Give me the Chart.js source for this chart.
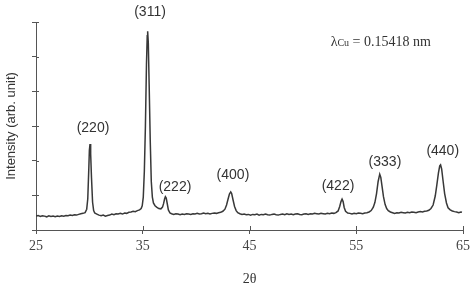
<!DOCTYPE html>
<html>
<head>
<meta charset="utf-8">
<script src="https://cdn.jsdelivr.net/npm/chart.js@4/dist/chart.umd.min.js"></script>
<style>
  html, body { margin: 0; padding: 0; background: #fff; }
  #wrap { width: 475px; height: 283px; }
</style>
</head>
<body>
<div id="wrap"><canvas id="xrdChart" width="475" height="283"></canvas></div>
<script>
// XRD pattern (2θ in degrees, intensity in tick units)
const twoTheta = [
  25.0, 25.2, 25.4, 25.6, 25.8, 26.0, 26.2, 26.4, 26.6, 26.8,
  27.0, 27.2, 27.4, 27.6, 27.8, 28.0, 28.2, 28.4, 28.6, 28.8,
  29.0, 29.2, 29.4, 29.6, 29.75, 29.85, 29.95, 30.0, 30.06, 30.12,
  30.2, 30.3, 30.4, 30.5, 30.7, 30.9, 31.1, 31.3, 31.5, 31.7,
  31.9, 32.1, 32.3, 32.5, 32.7, 32.9, 33.1, 33.3, 33.5, 33.7,
  33.9, 34.1, 34.3, 34.5, 34.7, 34.85, 34.95, 35.05, 35.15, 35.25,
  35.35, 35.42, 35.46, 35.52, 35.6, 35.7, 35.8, 35.9, 36.0, 36.15,
  36.3, 36.5, 36.7, 36.85, 36.95, 37.05, 37.12, 37.2, 37.3, 37.4,
  37.55, 37.7, 37.9, 38.1, 38.3, 38.5, 38.7, 38.9, 39.1, 39.3,
  39.5, 39.7, 39.9, 40.1, 40.3, 40.5, 40.7, 40.9, 41.1, 41.3,
  41.5, 41.7, 41.9, 42.1, 42.3, 42.5, 42.7, 42.85, 43.0, 43.12,
  43.24, 43.33, 43.45, 43.6, 43.75, 43.9, 44.1, 44.3, 44.5, 44.7,
  44.9, 45.1, 45.3, 45.5, 45.7, 45.9, 46.1, 46.3, 46.5, 46.7,
  46.9, 47.1, 47.3, 47.5, 47.7, 47.9, 48.1, 48.3, 48.5, 48.7,
  48.9, 49.1, 49.3, 49.5, 49.7, 49.9, 50.1, 50.3, 50.5, 50.7,
  50.9, 51.1, 51.3, 51.5, 51.7, 51.9, 52.1, 52.3, 52.5, 52.7,
  52.9, 53.1, 53.3, 53.45, 53.57, 53.67, 53.77, 53.87, 54.0, 54.2,
  54.4, 54.6, 54.8, 55.0, 55.2, 55.4, 55.6, 55.8, 56.0, 56.2,
  56.4, 56.6, 56.75, 56.9, 57.05, 57.2, 57.3, 57.42, 57.55, 57.7,
  57.85, 58.0, 58.2, 58.4, 58.6, 58.8, 59.0, 59.2, 59.4, 59.6,
  59.8, 60.0, 60.2, 60.4, 60.6, 60.8, 61.0, 61.2, 61.4, 61.6,
  61.8, 62.0, 62.2, 62.4, 62.55, 62.7, 62.82, 62.9, 63.0, 63.12,
  63.28, 63.45, 63.6, 63.8, 64.0, 64.2, 64.4, 64.6, 64.8, 64.9
];
const intensity = [
  0.40, 0.42, 0.39, 0.41, 0.40, 0.38, 0.41, 0.39, 0.40, 0.38,
  0.40, 0.39, 0.41, 0.40, 0.42, 0.41, 0.43, 0.42, 0.44, 0.43,
  0.45, 0.47, 0.48, 0.50, 0.60, 0.90, 1.80, 2.30, 2.48, 2.20,
  1.50, 0.80, 0.56, 0.49, 0.46, 0.43, 0.41, 0.43, 0.40, 0.42,
  0.43, 0.46, 0.44, 0.47, 0.46, 0.48, 0.46, 0.49, 0.48, 0.51,
  0.52, 0.54, 0.53, 0.56, 0.58, 0.62, 0.70, 0.95, 1.70, 3.00,
  4.80, 5.60, 5.73, 5.40, 4.20, 2.60, 1.40, 0.95, 0.78, 0.70,
  0.66, 0.62, 0.61, 0.66, 0.76, 0.90, 0.96, 0.92, 0.75, 0.58,
  0.49, 0.47, 0.45, 0.47, 0.46, 0.44, 0.46, 0.45, 0.47, 0.46,
  0.45, 0.47, 0.46, 0.48, 0.46, 0.47, 0.49, 0.47, 0.48, 0.46,
  0.48, 0.49, 0.48, 0.50, 0.51, 0.54, 0.60, 0.72, 0.90, 1.04,
  1.10, 1.05, 0.88, 0.68, 0.56, 0.50, 0.47, 0.45, 0.46, 0.44,
  0.45, 0.43, 0.45, 0.44, 0.46, 0.43, 0.45, 0.44, 0.46, 0.44,
  0.43, 0.45, 0.46, 0.44, 0.43, 0.45, 0.46, 0.44, 0.47, 0.45,
  0.46, 0.44, 0.46, 0.47, 0.45, 0.44, 0.46, 0.47, 0.45, 0.47,
  0.46, 0.48, 0.47, 0.46, 0.48, 0.47, 0.46, 0.48, 0.47, 0.49,
  0.48, 0.50, 0.55, 0.68, 0.82, 0.89, 0.82, 0.65, 0.54, 0.49,
  0.48, 0.46, 0.48, 0.47, 0.49, 0.48, 0.47, 0.49, 0.50, 0.52,
  0.56, 0.66, 0.80, 1.05, 1.40, 1.61, 1.52, 1.25, 0.96, 0.74,
  0.62, 0.56, 0.52, 0.50, 0.48, 0.50, 0.49, 0.51, 0.50, 0.49,
  0.51, 0.50, 0.52, 0.51, 0.50, 0.52, 0.53, 0.52, 0.54, 0.55,
  0.57, 0.62, 0.72, 0.98, 1.30, 1.65, 1.85, 1.88, 1.76, 1.45,
  1.05, 0.78, 0.64, 0.58, 0.55, 0.53, 0.52, 0.50, 0.52, 0.51
];

// reflection labels and where they sit (data units)
const peakNames = ['(220)', '(311)', '(222)', '(400)', '(422)', '(333)', '(440)'];
const peakLabelX = [30.34, 35.68, 38.02, 43.45, 53.29, 57.69, 63.1];
const peakLabelY = [2.94, 6.28, 1.24, 1.59, 1.27, 1.96, 2.28];

const xTicks = [25, 35, 45, 55, 65];

const points = twoTheta.map((t, i) => ({ x: t, y: intensity[i] }));

const annotations = {
    id: 'annotations',
    afterDraw(chart) {
        const { ctx, scales } = chart;
        const xs = scales.x, ys = scales.y;
        ctx.save();

        // inner half of the tick marks (ticks cross the axes)
        ctx.strokeStyle = '#555';
        ctx.lineWidth = 1;
        ctx.beginPath();
        xTicks.forEach(v => {
            const px = Math.round(xs.getPixelForValue(v)) + 0.5;
            ctx.moveTo(px, ys.bottom);
            ctx.lineTo(px, ys.bottom - 4);
        });
        for (let v = 1; v <= 6; v++) {
            const py = Math.round(ys.getPixelForValue(v)) + 0.5;
            ctx.moveTo(xs.left, py);
            ctx.lineTo(xs.left + 3, py);
        }
        ctx.stroke();

        // peak labels
        ctx.fillStyle = '#333';
        ctx.font = '14px "Liberation Sans", Arial, sans-serif';
        ctx.textAlign = 'center';
        ctx.textBaseline = 'middle';
        peakNames.forEach((name, i) => {
            ctx.fillText(name, xs.getPixelForValue(peakLabelX[i]), ys.getPixelForValue(peakLabelY[i]));
        });

        // wavelength note
        ctx.textAlign = 'left';
        ctx.textBaseline = 'alphabetic';
        let tx = xs.getPixelForValue(52.6);
        const ty = ys.getPixelForValue(5.45) + 5;
        ctx.font = '14px "Liberation Serif", "Times New Roman", serif';
        ctx.fillText('\u03bb', tx, ty);
        tx += ctx.measureText('\u03bb').width;
        ctx.font = '10px "Liberation Serif", "Times New Roman", serif';
        ctx.fillText('Cu', tx, ty);
        tx += ctx.measureText('Cu').width;
        ctx.font = '14px "Liberation Serif", "Times New Roman", serif';
        ctx.fillText(' = 0.15418 nm', tx, ty);

        ctx.restore();
    }
};

new Chart(document.getElementById('xrdChart'), {
    type: 'line',
    data: {
        datasets: [{
            data: points,
            borderColor: '#383838',
            borderWidth: 1.5,
            pointRadius: 0,
            tension: 0,
            fill: false
        }]
    },
    options: {
        responsive: false,
        animation: false,
        layout: { padding: { top: 22, right: 12, left: 0, bottom: 0 } },
        plugins: { legend: { display: false }, tooltip: { enabled: false } },
        scales: {
            x: {
                type: 'linear',
                min: 25,
                max: 65,
                afterBuildTicks(scale) { scale.ticks = xTicks.map(v => ({ value: v })); },
                afterFit(scale) { scale.height = 53; },
                grid: { drawOnChartArea: false, drawTicks: true, tickLength: 4, color: '#555' },
                border: { display: true, color: '#555', width: 1 },
                ticks: {
                    color: '#444',
                    padding: 4,
                    font: { family: '"Liberation Serif", "Times New Roman", serif', size: 14 }
                },
                title: {
                    display: true,
                    text: '2\u03b8',
                    color: '#333',
                    padding: { top: 0, bottom: -5 },
                    font: { family: '"Liberation Serif", "Times New Roman", serif', size: 14 }
                }
            },
            y: {
                min: 0,
                max: 6,
                ticks: { stepSize: 1, display: false },
                afterFit(scale) { scale.width = 36; },
                grid: { drawOnChartArea: false, drawTicks: true, tickLength: 4, color: '#555' },
                border: { display: true, color: '#555', width: 1 },
                title: {
                    display: true,
                    text: 'Intensity (arb. unit)',
                    color: '#333',
                    padding: { top: 4, bottom: 4 },
                    font: { family: '"Liberation Sans", Arial, sans-serif', size: 13 }
                }
            }
        }
    },
    plugins: [annotations]
});
</script>
</body>
</html>
